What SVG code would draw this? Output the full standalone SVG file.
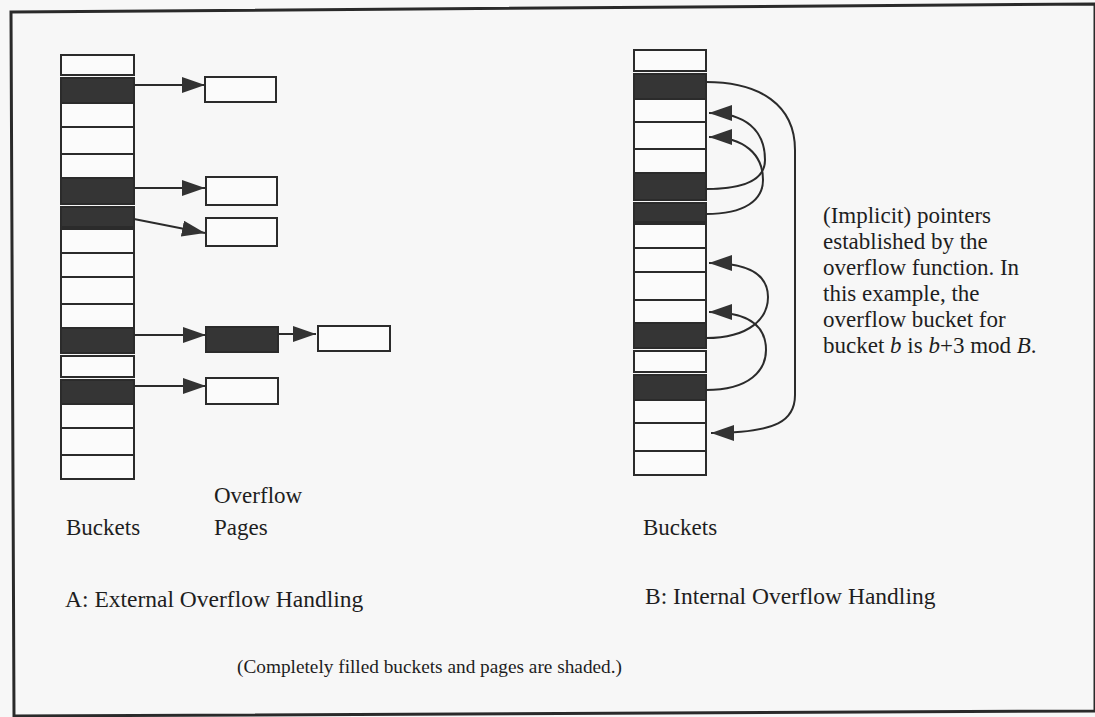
<svg xmlns="http://www.w3.org/2000/svg" width="1095" height="717" viewBox="0 0 1095 717">
<style>
  .b{fill:#fbfbfb;stroke:#2b2b2b;stroke-width:2}
  .s{fill:#353535;stroke:#2b2b2b;stroke-width:2}
  .c{fill:none;stroke:#2b2b2b;stroke-width:2}
  text{font-family:"Liberation Serif","Times New Roman",serif;font-size:23px;fill:#1e1e1e}
</style>
<defs>
  <marker id="ah" markerUnits="userSpaceOnUse" markerWidth="23" markerHeight="16" refX="23" refY="8" orient="auto">
    <path d="M0,0 L23,8 L0,16 z" fill="#333"/>
  </marker>
</defs>
<rect x="0" y="0" width="1095" height="717" fill="#f7f7f7"/>
<polygon points="11,12 1095,4 1095,711 14,716" fill="none" stroke="#2a2a2a" stroke-width="3"/>

<g id="bucketsA">
  <rect class="b" x="61" y="55" width="73" height="20"/>
  <rect class="s" x="61" y="78" width="73" height="25"/>
  <rect class="b" x="61" y="103" width="73" height="24"/>
  <rect class="b" x="61" y="127" width="73" height="27"/>
  <rect class="b" x="61" y="154" width="73" height="24"/>
  <rect class="s" x="61" y="178" width="73" height="26"/>
  <rect class="s" x="61" y="207" width="73" height="20"/>
  <rect class="b" x="61" y="229" width="73" height="24"/>
  <rect class="b" x="61" y="253" width="73" height="24"/>
  <rect class="b" x="61" y="277" width="73" height="27"/>
  <rect class="b" x="61" y="304" width="73" height="24"/>
  <rect class="s" x="61" y="328" width="73" height="25"/>
  <rect class="b" x="61" y="356" width="73" height="21"/>
  <rect class="s" x="61" y="380" width="73" height="24"/>
  <rect class="b" x="61" y="404" width="73" height="24"/>
  <rect class="b" x="61" y="428" width="73" height="27"/>
  <rect class="b" x="61" y="455" width="73" height="24"/>
</g>

<g id="page1"><rect class="b" x="205" y="77" width="71" height="25"/></g>
<g id="page2"><rect class="b" x="206" y="177" width="71" height="28"/></g>
<g id="page3"><rect class="b" x="206" y="218" width="71" height="28"/></g>
<g id="page4"><rect class="s" x="206" y="327" width="72" height="25"/></g>
<g id="page5"><rect class="b" x="318" y="326" width="72" height="25"/></g>
<g id="page6"><rect class="b" x="206" y="378" width="72" height="26"/></g>

<g id="bucketsB">
  <rect class="b" x="634" y="50" width="72" height="21"/>
  <rect class="s" x="634" y="74" width="72" height="25"/>
  <rect class="b" x="634" y="99" width="72" height="23"/>
  <rect class="b" x="634" y="122" width="72" height="27"/>
  <rect class="b" x="634" y="149" width="72" height="24"/>
  <rect class="s" x="634" y="173" width="72" height="27"/>
  <rect class="s" x="634" y="203" width="72" height="19"/>
  <rect class="b" x="634" y="224" width="72" height="24"/>
  <rect class="b" x="634" y="248" width="72" height="24"/>
  <rect class="b" x="634" y="272" width="72" height="28"/>
  <rect class="b" x="634" y="300" width="72" height="23"/>
  <rect class="s" x="634" y="323" width="72" height="25"/>
  <rect class="b" x="634" y="351" width="72" height="21"/>
  <rect class="s" x="634" y="375" width="72" height="25"/>
  <rect class="b" x="634" y="400" width="72" height="23"/>
  <rect class="b" x="634" y="423" width="72" height="28"/>
  <rect class="b" x="634" y="451" width="72" height="24"/>
</g>

<g id="connectors">
  <line class="c" x1="134" y1="85" x2="205" y2="85" marker-end="url(#ah)"/>
  <line class="c" x1="134" y1="188" x2="205" y2="188" marker-end="url(#ah)"/>
  <line class="c" x1="134" y1="219" x2="205" y2="233" marker-end="url(#ah)"/>
  <line class="c" x1="134" y1="335" x2="206" y2="335" marker-end="url(#ah)"/>
  <line class="c" x1="278" y1="334" x2="316" y2="334" marker-end="url(#ah)"/>
  <line class="c" x1="134" y1="386" x2="206" y2="386" marker-end="url(#ah)"/>

  <path class="c" d="M706,82 C760,82 795,105 795,150 L795,395 C795,420 778,433 711,433" marker-end="url(#ah)"/>
  <path class="c" d="M706,189 C745,189 765,180 765,160 C765,130 745,113 709,113" marker-end="url(#ah)"/>
  <path class="c" d="M706,214 C745,214 763,200 763,180 C763,155 745,137 709,137" marker-end="url(#ah)"/>
  <path class="c" d="M706,338 C750,338 768,318 768,297 C768,277 752,263 709,263" marker-end="url(#ah)"/>
  <path class="c" d="M706,390 C750,390 766,370 766,350 C766,327 750,312 709,312" marker-end="url(#ah)"/>
</g>

<g id="labels">
  <text x="66" y="535">Buckets</text>
  <text x="214" y="503">Overflow</text>
  <text x="214" y="535">Pages</text>
  <text x="65" y="607" style="font-size:23.5px">A: External Overflow Handling</text>
  <text x="643" y="535">Buckets</text>
  <text x="645" y="604" style="font-size:23.5px">B: Internal Overflow Handling</text>
  <text x="237" y="673" style="font-size:19.3px">(Completely filled buckets and pages are shaded.)</text>
  <text x="823" y="223">(Implicit) pointers</text>
  <text x="823" y="249">established by the</text>
  <text x="823" y="275">overflow function. In</text>
  <text x="823" y="301">this example, the</text>
  <text x="823" y="327">overflow bucket for</text>
  <text x="823" y="353">bucket <tspan font-style="italic">b</tspan> is <tspan font-style="italic">b</tspan>+3 mod <tspan font-style="italic">B</tspan>.</text>
</g>
</svg>
